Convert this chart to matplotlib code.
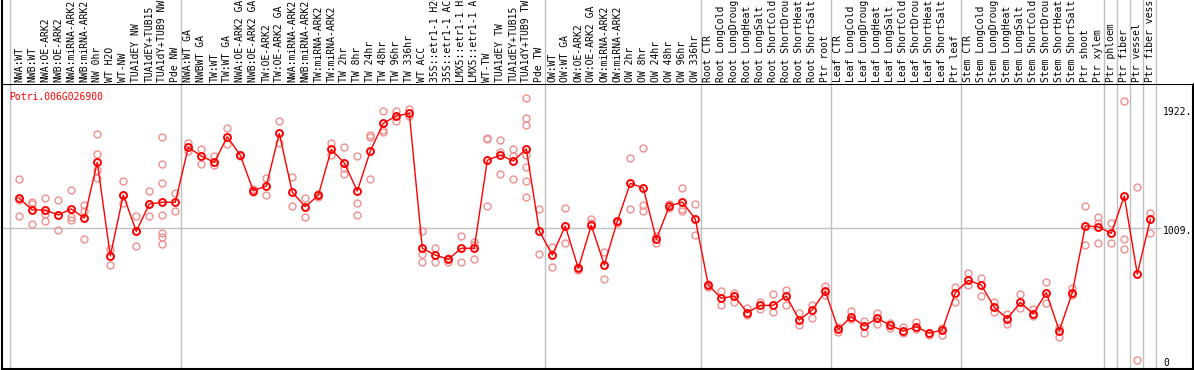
import matplotlib
matplotlib.use('Agg')
import matplotlib.pyplot as plt

gene = 'Potri.006G026900'

samples = [
    'NWA:WT', 'NWB:WT', 'NWA:OE-ARK2', 'NWB:OE-ARK2', 'NWA:miRNA-ARK2', 'NWB:miRNA-ARK2',
    'NW 0hr', 'WT H2O', 'WT-NW', 'TUA1dEY NW', 'TUA1dEY+TUB15', 'TUA1dY+TUB9 NW', 'Pde NW',
    'NWA:WT GA', 'NWBWT GA', 'TW:WT', 'TW:WT GA', 'NWA:OE-ARK2 GA', 'NWB:OE-ARK2 GA',
    'TW:OE-ARK2', 'TW:OE-ARK2 GA', 'NWA:miRNA-ARK2', 'NWB:miRNA-ARK2', 'TW:miRNA-ARK2',
    'TW:miRNA-ARK2', 'TW 2hr', 'TW 8hr', 'TW 24hr', 'TW 48hr', 'TW 96hr', 'TW 336hr',
    'WT ACC', '35S::etr1-1 H2O', '35S::etr1-1 ACC', 'LMX5::etr1-1 H2O', 'LMX5::etr1-1 ACC',
    'WT-TW', 'TUA1dEY TW', 'TUA1dEY+TUB15', 'TUA1dY+TUB9 TW', 'Pde TW',
    'OW:WT', 'OW:WT GA', 'OW:OE-ARK2', 'OW:OE-ARK2 GA', 'OW:miRNA-ARK2', 'OW:miRNA-ARK2',
    'OW 2hr', 'OW 8hr', 'OW 24hr', 'OW 48hr', 'OW 96hr', 'OW 336hr',
    'Root CTR', 'Root LongCold', 'Root LongDrought', 'Root LongHeat', 'Root LongSalt',
    'Root ShortCold', 'Root ShortDrought', 'Root ShortHeat', 'Root ShortSalt', 'Ptr root',
    'Leaf CTR', 'Leaf LongCold', 'Leaf LongDrought', 'Leaf LongHeat', 'Leaf LongSalt',
    'Leaf ShortCold', 'Leaf ShortDrought', 'Leaf ShortHeat', 'Leaf ShortSalt', 'Ptr leaf',
    'Stem CTR', 'Stem LongCold', 'Stem LongDrought', 'Stem LongHeat', 'Stem LongSalt',
    'Stem ShortCold', 'Stem ShortDrought', 'Stem ShortHeat', 'Stem ShortSalt', 'Ptr shoot',
    'Ptr xylem', 'Ptr phloem', 'Ptr fiber', 'Ptr vessel', 'Ptr fiber vessel',
]

mean_expr = [
    1238, 1149, 1149, 1111, 1157, 1088, 1513, 798, 1263, 986, 1195, 1208, 1208,
    1628, 1561, 1513, 1708, 1567, 1296, 1332, 1734, 1284, 1174, 1261, 1612, 1508,
    1294, 1599, 1811, 1867, 1887, 857, 805, 773, 857, 857, 1528, 1569, 1523, 1615, 989,
    805, 1027, 704, 1032, 729, 1063, 1353, 1317, 925, 1179, 1210, 1080,
    576, 475, 492, 365, 421, 421, 492, 309, 386, 528,
    238, 334, 263, 322, 269, 225, 258, 208, 233, 518,
    612, 576, 406, 319, 444, 355, 518, 227, 518, 1027, 1021,
    971, 1256, 660, 1078,
]

rep_expr = [
    [1386, 1225, 1103], [1212, 1195, 1040], [1238, 1118, 1065], [1223, 1111, 994],
    [1302, 1093, 1073], [1185, 1144, 925], [1729, 1576, 1454, 1391], [853, 798, 727],
    [1370, 1263, 1205], [1103, 986, 874], [1292, 1195, 1103],
    [1704, 1498, 1353, 1108, 976, 940, 887], [1281, 1139],
    [1658, 1599], [1612, 1500], [1561, 1492], [1775, 1650], [1569, 1561], [1309, 1284],
    [1391, 1261], [1826, 1658], [1399, 1179], [1238, 1093], [1271, 1250], [1658, 1567],
    [1628, 1467, 1421], [1561, 1200, 1108], [1721, 1708, 1386], [1902, 1760, 1744],
    [1902, 1828], [1918, 1867], [989, 811, 754], [857, 750], [785, 754], [950, 754],
    [907, 882, 773], [1701, 1689, 1179], [1681, 1592, 1424], [1612, 1561, 1383],
    [2002, 1849, 1796, 1569, 1475, 1370, 1246], [1157, 813],
    [864, 711], [1164, 895], [716, 691], [1082, 1047], [826, 622], [1067, 1052],
    [1544, 1154], [1620, 1187, 1141], [950, 895], [1192, 1166], [1315, 1159, 1141],
    [1192, 958],
    [584, 563], [531, 424], [513, 444], [398, 347], [444, 393], [508, 373], [538, 424],
    [365, 271], [424, 327], [569, 500],
    [258, 220], [380, 315], [304, 212], [365, 276], [289, 246], [253, 212], [296, 238],
    [212, 192], [246, 195], [563, 444],
    [666, 576], [628, 492], [447, 373], [355, 279], [508, 398], [391, 342], [597, 437],
    [248, 182], [551, 500], [1177, 882], [1093, 1052, 899],
    [1047, 899], [1981, 925, 849], [1322, 4], [1124, 976],
]

group_sizes = [13, 28, 12, 10, 10, 11, 1, 1, 1, 1]
axis_marks = [0, 1009, 1922]
axis_text = ['0', '1009.', '1922.']

W, H = 1194, 370
fig = plt.figure(figsize=(W / 100, H / 100), dpi=100)
mono = 'DejaVu Sans Mono'
grey = '#c0c0c0'

ax_l, ax_r = 1.5 / W, 1192.7 / W
ax_top = 84
ax = fig.add_axes([ax_l, 1 / H, ax_r - ax_l, (H - ax_top - 1) / H])
axh = fig.add_axes([ax_l, (H - ax_top) / H, ax_r - ax_l, ax_top / H])

xmin = -(19.3 - 1.5) / 13
xmax = xmin + (1192.7 - 1.5) / 13
for a in (ax, axh):
    a.set_xlim(xmin, xmax)
    a.set_xticks([])
    a.set_yticks([])
ax.set_ylim(-65, 2111)
axh.set_ylim(0, 1)

for s in ax.spines.values():
    s.set_linewidth(1.5)
    s.set_color('black')
for k in ('top', 'right', 'bottom'):
    axh.spines[k].set_visible(False)
axh.spines['left'].set_linewidth(1.5)

# group separators
seps = [-0.72]
n = 0
for g in group_sizes:
    n += g
    seps.append(n - 0.58)
for s in seps:
    ax.axvline(s, color=grey, lw=1, zorder=1)
    axh.axvline(s, color=grey, lw=1, zorder=1)

ax.plot([xmin, 87.75], [axis_marks[1]] * 2, color=grey, lw=1, zorder=1)

for i, reps in enumerate(rep_expr):
    ax.plot([i] * len(reps), reps, 'o', ms=5, mfc='none', mec='#f09090', mew=1, zorder=2)

xs = list(range(len(mean_expr)))
ax.plot(xs, mean_expr, '-', color='red', lw=1, zorder=3)
ax.plot(xs, mean_expr, 'o', ms=5, mfc='none', mec='red', mew=1.4, zorder=4)

for v, t in zip(axis_marks, axis_text):
    ax.annotate(t, xy=(87.98, v), xytext=(0, -2), textcoords='offset points',
                va='center', ha='left', fontsize=7, family=mono)

ax.annotate(gene, xy=(0, 1), xycoords='axes fraction', xytext=(5.6, -9.1),
            textcoords='offset points', va='center', ha='left', fontsize=7,
            family=mono, color='red')

for i, s in enumerate(samples):
    axh.text(i, 2 / ax_top, s, rotation=90, ha='center', va='bottom',
             fontsize=7, family=mono, transform=axh.get_xaxis_transform())

fig.savefig('out.png', dpi=100)
